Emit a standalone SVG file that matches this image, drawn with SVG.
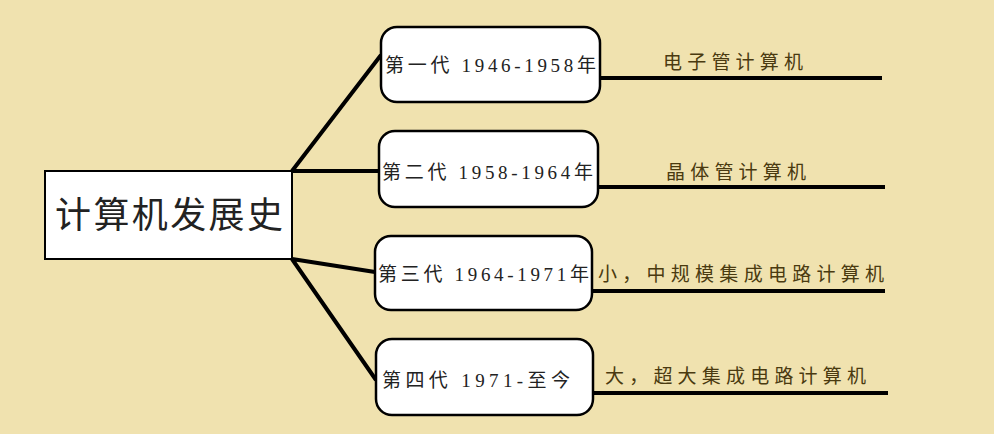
<svg xmlns="http://www.w3.org/2000/svg" width="994" height="434" viewBox="0 0 994 434">
<style>
.b{fill:#fff;stroke:#000;stroke-width:2.5}
.l{stroke:#000;stroke-width:4;fill:none}
text{font-family:"Liberation Serif","Noto Sans CJK SC",serif;fill:#222}
.t{font-size:19px}
.r{font-size:19px;fill:#4a3a10}
</style>
<rect width="994" height="434" fill="#F0E2AF"/>
<g id="connectors">
<path class="l" d="M292 171L381 55M292 171H379M292 259L375 272M292 259L376 380"/>
<path class="l" d="M600 78H882M598 187H885M592 291H885M593 393H888"/>
</g>
<g id="root"><rect x="45" y="171" width="247" height="88" fill="#fff" stroke="#000" stroke-width="2"/>
<text x="55" y="228" font-size="36" textLength="228" lengthAdjust="spacing">计算机发展史</text></g>
<g id="n1"><rect class="b" x="381" y="27" width="219" height="75" rx="16"/><text class="t" x="385" y="72" textLength="211">第一代 1946-1958年</text></g>
<g id="n2"><rect class="b" x="379" y="131" width="219" height="76" rx="16"/><text class="t" x="382" y="179" textLength="211">第二代 1958-1964年</text></g>
<g id="n3"><rect class="b" x="375" y="236" width="217" height="74" rx="16"/><text class="t" x="378" y="281" textLength="211">第三代 1964-1971年</text></g>
<g id="n4"><rect class="b" x="376" y="339" width="217" height="76" rx="16"/><text class="t" x="382" y="387" textLength="188">第四代 1971-至今</text></g>
<g id="labels">
<text class="r" x="663" y="69" textLength="140">电子管计算机</text>
<text class="r" x="666" y="179" textLength="140">晶体管计算机</text>
<text class="r" x="598" y="281" textLength="286">小，中规模集成电路计算机</text>
<text class="r" x="605" y="383" textLength="261">大，超大集成电路计算机</text>
</g>
</svg>
